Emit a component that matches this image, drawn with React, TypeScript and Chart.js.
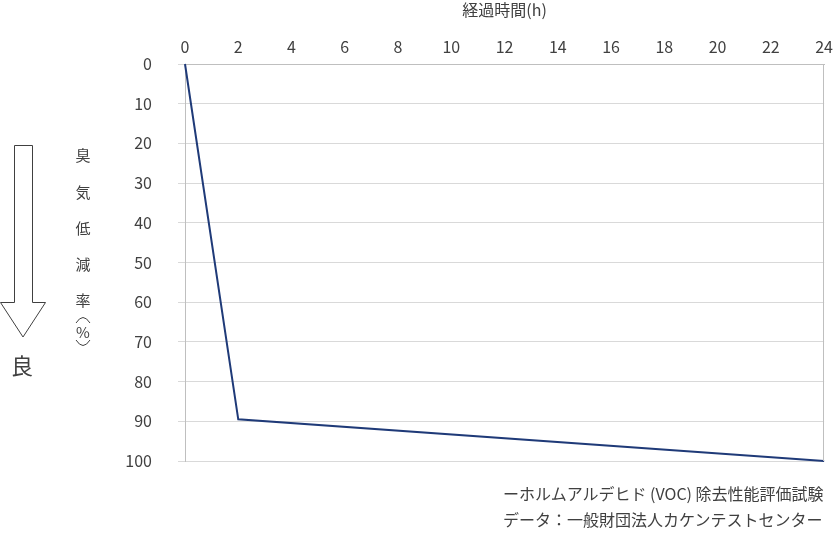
import React, { useEffect, useRef } from "react";
import { Chart, registerables } from "chart.js";

Chart.register(...registerables);

const hours = [0, 2, 24];
const reduction = [0, 89.5, 100];
const xTickStep = 2;
const yTickStep = 10;
const xTitle = "経過時間(h)";
const yTitleChars = ["臭", "気", "低", "減", "率"];
const yTitleUnit = "%";
const goodLabel = "良";
const note1 = "ーホルムアルデヒド (VOC) 除去性能評価試験";
const note2 = "データ：一般財団法人カケンテストセンター";

const FONT = "'Noto Sans CJK JP', 'Noto Sans', sans-serif";
const TEXT = "#404040";

const rightBorder = {
  id: "rightBorder",
  afterDraw(chart: any) {
    const { ctx, chartArea } = chart;
    ctx.save();
    ctx.strokeStyle = "#bfbfbf";
    ctx.lineWidth = 1;
    ctx.beginPath();
    ctx.moveTo(Math.round(chartArea.right) - 0.5, chartArea.top);
    ctx.lineTo(Math.round(chartArea.right) - 0.5, chartArea.bottom);
    ctx.stroke();
    ctx.restore();
  },
};

export default function App() {
  const ref = useRef<HTMLCanvasElement | null>(null);

  useEffect(() => {
    if (!ref.current) return;
    const data = hours.map((h, i) => ({ x: h, y: reduction[i] }));
    const chart = new Chart(ref.current, {
      type: "line",
      data: {
        datasets: [
          {
            data,
            borderColor: "#1f3a78",
            borderWidth: 2,
            pointRadius: 0,
            tension: 0,
            clip: false as any,
          },
        ],
      },
      options: {
        animation: false,
        responsive: false,
        events: [],
        layout: { padding: { left: 0, right: 2, top: 0, bottom: 75 } },
        plugins: { legend: { display: false }, tooltip: { enabled: false } },
        scales: {
          x: {
            type: "linear",
            position: "top",
            min: 0,
            max: 24,
            afterFit: (s: any) => {
              s.height = 64;
            },
            ticks: {
              stepSize: xTickStep,
              color: TEXT,
              font: { family: FONT, size: 16 },
              padding: 7,
              maxRotation: 0,
            },
            grid: { display: true, drawOnChartArea: false, drawTicks: false },
            border: { display: true, color: "#bfbfbf" },
            title: {
              display: true,
              text: xTitle,
              color: TEXT,
              font: { family: FONT, size: 16 },
              padding: { top: 0, bottom: 0 },
            },
          },
          y: {
            type: "linear",
            reverse: true,
            min: 0,
            max: 100,
            afterFit: (s: any) => {
              s.width = 185;
            },
            ticks: {
              stepSize: yTickStep,
              color: TEXT,
              font: { family: FONT, size: 16 },
              padding: 26,
            },
            grid: {
              color: "#d9d9d9",
              tickColor: "#d9d9d9",
              tickLength: 7,
              drawTicks: true,
            },
            border: { display: true, color: "#bfbfbf" },
          },
        },
      },
      plugins: [rightBorder],
    });
    return () => chart.destroy();
  }, []);

  const charY = [155, 192, 228, 264, 300];

  const vStyle = (top: number, size = 15): React.CSSProperties => ({
    position: "absolute",
    left: 83,
    top,
    transform: "translate(-50%,-50%)",
    fontSize: size,
    lineHeight: `${size + 1}px`,
  });

  return (
    <div
      style={{
        position: "fixed",
        left: 0,
        top: 0,
        width: 840,
        height: 536,
        background: "#fff",
        fontFamily: FONT,
        color: TEXT,
      }}
    >
      <canvas ref={ref} width={840} height={536} style={{ position: "absolute", left: 0, top: 0 }} />
      <svg width={100} height={400} style={{ position: "absolute", left: 0, top: 0 }}>
        <polygon
          points="14.5,145.5 32.5,145.5 32.5,302.5 45.5,302.5 23,337 0.5,302.5 14.5,302.5"
          fill="#fff"
          stroke="#404040"
          strokeWidth={1}
        />
        <path d="M76,323 Q83,312 90,323" fill="none" stroke={TEXT} strokeWidth={1} />
        <path d="M76,340 Q83,351 90,340" fill="none" stroke={TEXT} strokeWidth={1} />
      </svg>
      {yTitleChars.map((c, i) => (
        <span key={i} style={vStyle(charY[i])}>
          {c}
        </span>
      ))}
      <span style={vStyle(332, 15)}>{yTitleUnit}</span>
      <span
        style={{
          position: "absolute",
          left: 22,
          top: 364,
          transform: "translate(-50%,-50%)",
          fontSize: 22,
          lineHeight: "24px",
        }}
      >
        {goodLabel}
      </span>
      <div
        style={{
          position: "absolute",
          left: 503,
          top: 493,
          transform: "translateY(-50%)",
          fontSize: 16,
          lineHeight: "20px",
          whiteSpace: "nowrap",
        }}
      >
        {note1}
      </div>
      <div
        style={{
          position: "absolute",
          left: 503,
          top: 519,
          transform: "translateY(-50%)",
          fontSize: 16,
          lineHeight: "20px",
          whiteSpace: "nowrap",
        }}
      >
        {note2}
      </div>
    </div>
  );
}
